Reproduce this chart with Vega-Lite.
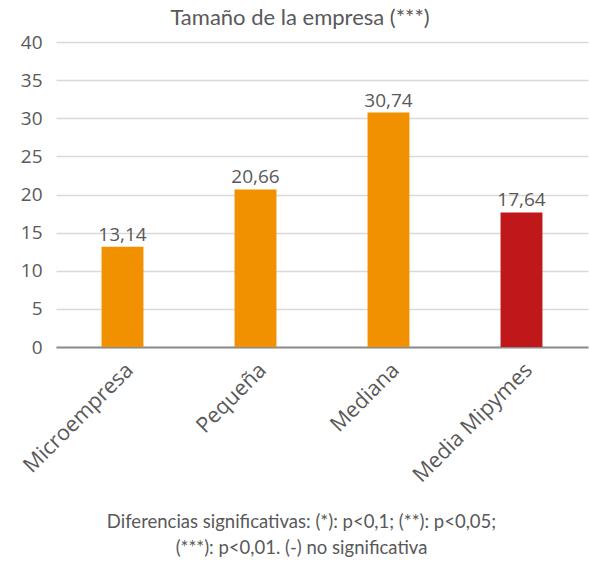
{
  "$schema": "https://vega.github.io/schema/vega-lite/v6.json",
  "autosize": "none",
  "width": 532,
  "height": 305,
  "padding": {"left": 56, "top": 42, "right": 1, "bottom": 215},
  "background": "white",
  "config": {
    "locale": {"number": {"decimal": ",", "thousands": ".", "grouping": [3], "currency": ["", " €"]}},
    "view": {"stroke": null},
    "font": "Open Sans"
  },
  "title": {
    "text": "Tamaño de la empresa (***)",
    "font": "Lato",
    "fontSize": 22,
    "fontWeight": "normal",
    "color": "#595959",
    "anchor": "middle",
    "frame": "group",
    "dx": -22,
    "baseline": "bottom",
    "offset": -19
  },
  "data": {
    "values": [
      {"categoria": "Microempresa", "valor": 13.14, "tipo": "grupo"},
      {"categoria": "Pequeña", "valor": 20.66, "tipo": "grupo"},
      {"categoria": "Mediana", "valor": 30.74, "tipo": "grupo"},
      {"categoria": "Media Mipymes", "valor": 17.64, "tipo": "media"}
    ]
  },
  "encoding": {
    "x": {
      "field": "categoria",
      "type": "nominal",
      "sort": null,
      "scale": {"paddingInner": 0.685, "paddingOuter": 0.3425},
      "axis": {
        "labelAngle": -45,
        "labelFontSize": 21.5,
        "labelColor": "#595959",
        "labelFont": "Open Sans",
        "labelPadding": 12,
        "ticks": false,
        "domainColor": "#8c8c8c",
        "domainWidth": 2,
        "title": ["Diferencias significativas: (*): p<0,1; (**): p<0,05;", "(***): p<0,01. (-) no significativa"],
        "titleFont": "Lato",
        "titleFontSize": 18.5,
        "titleFontWeight": "normal",
        "titleColor": "#595959",
        "titleAnchor": "middle",
        "titleX": 245,
        "titleY": 180,
        "titleBaseline": "alphabetic",
        "titleLineHeight": 26
      }
    },
    "y": {
      "field": "valor",
      "type": "quantitative",
      "scale": {"domain": [0, 40]},
      "axis": {
        "values": [0, 5, 10, 15, 20, 25, 30, 35, 40],
        "format": "d",
        "title": null,
        "domain": false,
        "ticks": false,
        "labelFontSize": 19,
        "labelColor": "#595959",
        "labelPadding": 14,
        "gridColor": "#d9d9d9",
        "gridWidth": 1.5
      }
    }
  },
  "layer": [
    {
      "mark": {"type": "bar"},
      "encoding": {
        "color": {
          "field": "tipo",
          "type": "nominal",
          "scale": {"domain": ["grupo", "media"], "range": ["#F29100", "#C0171B"]},
          "legend": null
        }
      }
    },
    {
      "mark": {"type": "text", "baseline": "alphabetic", "dy": -6, "fontSize": 19, "color": "#595959", "font": "Open Sans"},
      "encoding": {
        "text": {"field": "valor", "type": "quantitative", "format": ".2f"}
      }
    }
  ]
}
